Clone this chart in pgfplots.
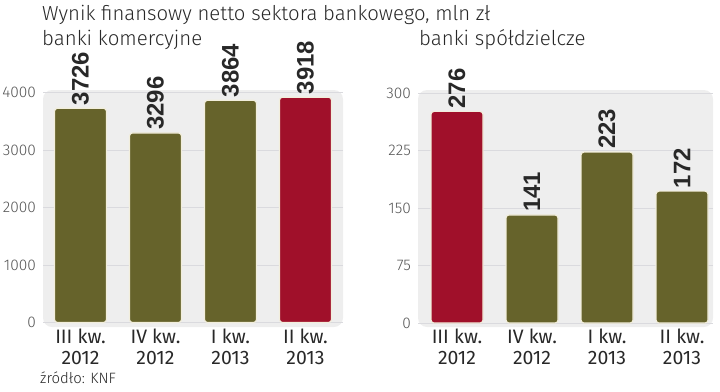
\documentclass[border=0pt]{standalone}
\usepackage{fontspec}
\usepackage{pgfplots}
\pgfplotsset{compat=1.18}
\setmainfont{Fira Sans}
\newfontfamily\lightfont{Fira Sans Light}
\newfontfamily\numfont{Liberation Sans}
\definecolor{olive}{RGB}{102,99,43}
\definecolor{kred}{RGB}{160,16,42}
\definecolor{bgc}{RGB}{238,238,238}
\definecolor{gridc}{RGB}{218,218,222}
\definecolor{rim}{RGB}{242,238,220}
\definecolor{tickc}{RGB}{85,85,85}
\definecolor{txt}{RGB}{40,40,40}
\pgfplotsset{
  kbase/.style={
    scale only axis,
    clip=false,
    ybar, bar width=52bp, bar shift=0pt,
    axis line style={draw=none},
    major tick length=0pt,
    ymajorgrids, grid style={gridc, line width=0.7bp},
    axis background/.style={fill=bgc, rounded corners=9bp},
    xtick={0,1,2,3},
    xticklabels={{III kw.\\2012},{IV kw.\\2012},{I kw.\\2013},{II kw.\\2013}},
    xticklabel style={align=center, anchor=north, inner sep=0pt, yshift=-2bp,
      font=\fontsize{19.5}{20.5}\selectfont, text=txt},
    yticklabel style={anchor=east, inner sep=0pt, xshift=-7bp,
      font=\lightfont\fontsize{15.5}{16}\selectfont, text=tickc},
    /pgf/number format/assume math mode=true,
    /pgf/number format/1000 sep={},
    scaled y ticks=false,
    nodes near coords,
    every node near coord/.append style={rotate=90, anchor=west, inner sep=2.5bp,
      font=\numfont\bfseries\fontsize{24}{24}\selectfont, text=txt},
    every axis plot/.append style={draw=rim, line width=1.2bp, rounded corners=3bp},
  }
}
\begin{document}
\begin{tikzpicture}
\path[use as bounding box] (0,0) rectangle (720bp,-392bp);
\begin{axis}[kbase,
  at={(43bp,-327bp)}, anchor=south west,
  width=300bp, height=237bp,
  xmin=-0.5, xmax=3.5, ymin=-78, ymax=4043,
  ytick={0,1000,2000,3000,4000}]
\addplot[fill=olive] coordinates {(0,3726) (1,3296) (2,3864)};
\addplot[fill=kred] coordinates {(3,3918)};
\end{axis}
\begin{axis}[kbase,
  at={(418bp,-327bp)}, anchor=south west,
  width=295bp, height=237bp,
  xmin=-0.52, xmax=3.413, ymin=-5.2, ymax=303.9,
  ytick={0,75,150,225,300}]
\addplot[fill=kred] coordinates {(0,276)};
\addplot[fill=olive] coordinates {(1,141) (2,223) (3,172)};
\end{axis}
\node[anchor=base west, inner sep=0pt, text=txt, font=\lightfont\fontsize{20.4}{21}\selectfont] at (42bp,-20bp) {Wynik finansowy netto sektora bankowego, mln zł};
\node[anchor=base west, inner sep=0pt, text=txt, font=\lightfont\fontsize{20.5}{21}\selectfont] at (42bp,-45bp) {banki komercyjne};
\node[anchor=base west, inner sep=0pt, text=txt, font=\lightfont\fontsize{20.5}{21}\selectfont] at (419bp,-45bp) {banki spółdzielcze};
\node[anchor=base west, inner sep=0pt, text=txt, font=\lightfont\fontsize{15}{16}\selectfont] at (40bp,-383bp) {źródło: KNF};
\end{tikzpicture}
\end{document}
